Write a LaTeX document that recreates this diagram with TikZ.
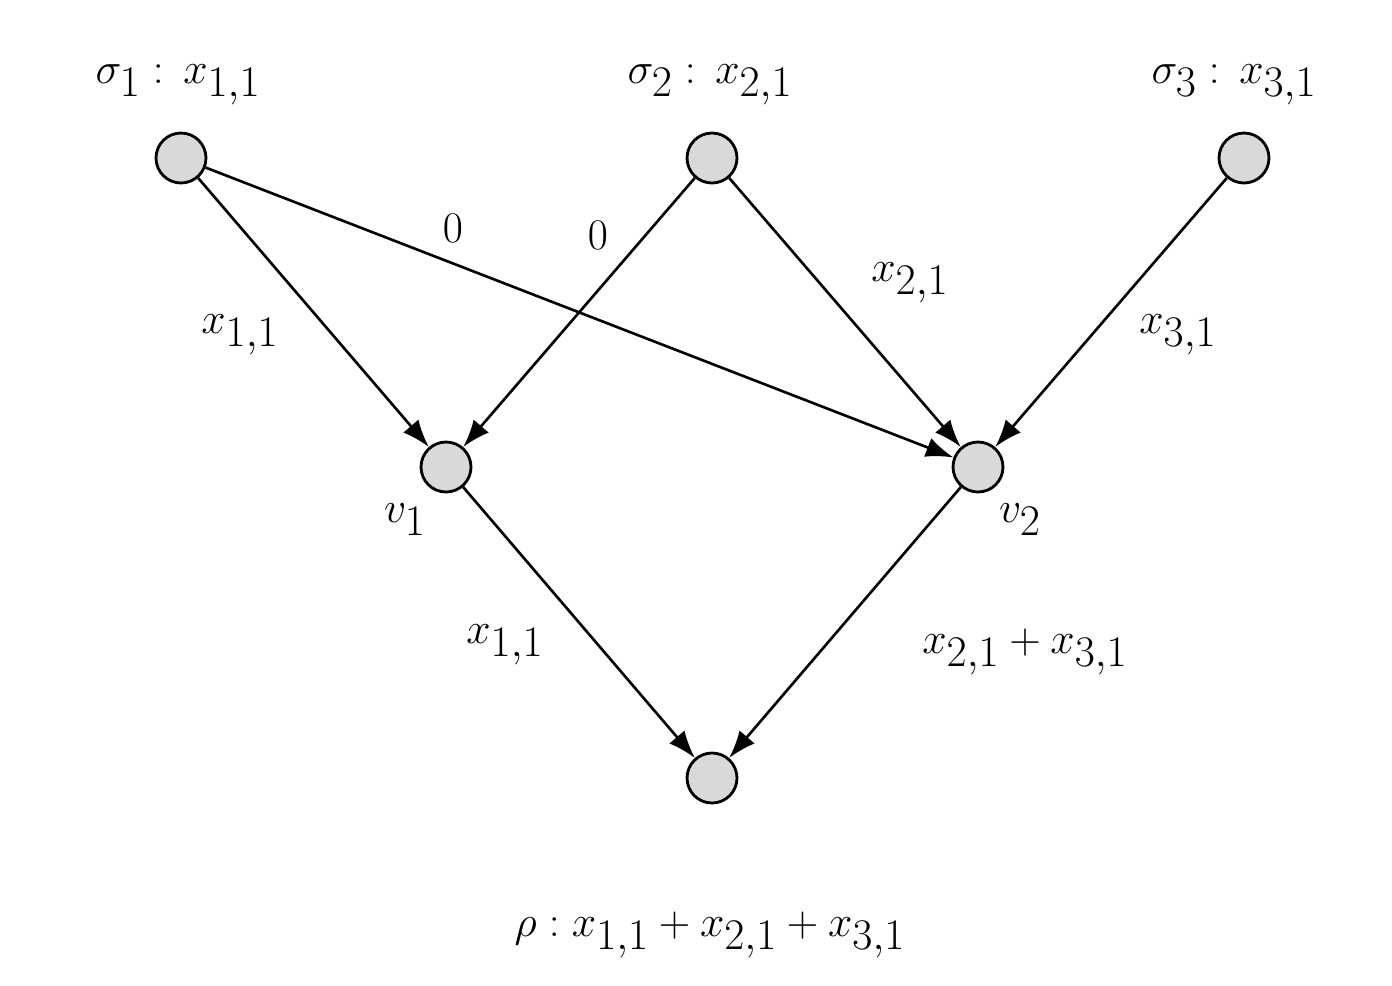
\documentclass[tikz,border=0pt]{standalone}
\usetikzlibrary{arrows.meta}
\begin{document}
\begin{tikzpicture}[x=0.02cm,y=-0.02cm,
  dot/.style={circle,draw,fill=gray!30,line width=1.6pt,minimum size=1cm,inner sep=0pt},
  lab/.style={font=\fontsize{64}{76}\selectfont,inner sep=0pt},
  arr/.style={-{Latex[length=0.55cm,width=0.4cm]},line width=1.5pt}]
\useasboundingbox (0,0) rectangle (1392,985);
\node[dot] (s1) at (181,158) {};
\node[dot] (s2) at (712,158) {};
\node[dot] (s3) at (1244,158) {};
\node[dot] (v1) at (446,467) {};
\node[dot] (v2) at (978,467) {};
\node[dot] (r) at (712,778) {};
\node[lab] (ls1) at (178,85) {$\sigma_1:\,x_{1,1}$};
\node[lab] (ls2) at (710,85) {$\sigma_2:\,x_{2,1}$};
\node[lab] (ls3) at (1234,85) {$\sigma_3:\,x_{3,1}$};
\node[lab] (lv1) at (405,520) {$v_1$};
\node[lab] (lv2) at (1020,520) {$v_2$};
\node[lab] (lr) at (710,935) {$\rho: x_{1,1}+x_{2,1}+x_{3,1}$};
\draw[arr] (s1) -- (v1);
\draw[arr] (s1) -- (v2);
\draw[arr] (s2) -- (v1);
\draw[arr] (s2) -- (v2);
\draw[arr] (s3) -- (v2);
\draw[arr] (v1) -- (r);
\draw[arr] (v2) -- (r);
\node[lab] (e1) at (240,335) {$x_{1,1}$};
\node[lab] (e2) at (453,228) {$0$};
\node[lab] (e3) at (598,235) {$0$};
\node[lab] (e4) at (910,283) {$x_{2,1}$};
\node[lab] (e5) at (1178,335) {$x_{3,1}$};
\node[lab] (e6) at (505,645) {$x_{1,1}$};
\node[lab] (e7) at (1025,652) {$x_{2,1}+x_{3,1}$};
\end{tikzpicture}
\end{document}
